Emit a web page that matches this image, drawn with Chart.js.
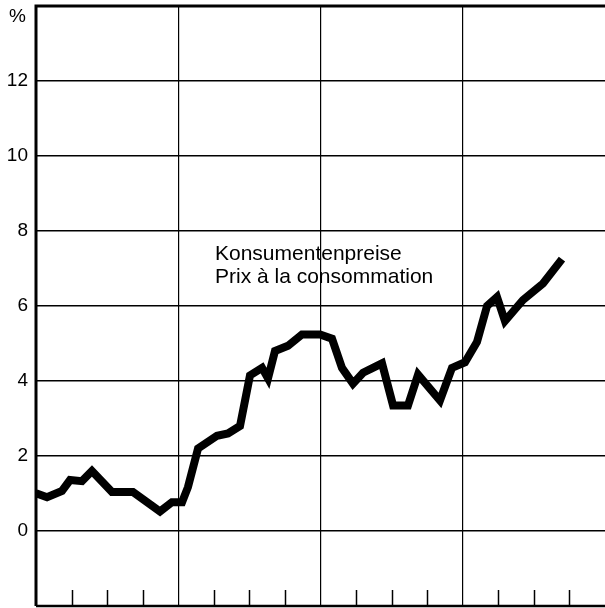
<!DOCTYPE html>
<html>
<head>
<meta charset="utf-8">
<script src="https://cdn.jsdelivr.net/npm/chart.js@4"></script>
<style>
  html, body { margin: 0; padding: 0; background: #fff; }
  #wrap { width: 605px; height: 608px; }
</style>
</head>
<body>
<div id="wrap"><canvas id="cpi"></canvas></div>
<script>
// months since start of the first year shown (4 years on the axis)
const months = [0, 0.93, 2.19, 2.87, 3.88, 4.72, 6.41, 8.18, 10.46, 11.47,
  12.32, 12.82, 13.67, 15.27, 16.2, 17.21, 18.05, 19.07, 19.57, 20.16,
  21.26, 22.44, 23.96, 24.97, 25.81, 26.74, 27.59, 29.19, 30.12, 31.38,
  32.23, 34.08, 35.09, 36.19, 37.2, 38.05, 38.89, 39.56, 41.08, 42.77, 44.37];
const cpi = [1.01, 0.9, 1.07, 1.36, 1.33, 1.6, 1.04, 1.04, 0.52, 0.77,
  0.77, 1.17, 2.2, 2.54, 2.6, 2.8, 4.15, 4.35, 4.07, 4.8,
  4.94, 5.24, 5.24, 5.13, 4.35, 3.93, 4.22, 4.47, 3.35, 3.35,
  4.17, 3.48, 4.35, 4.5, 5.04, 6.0, 6.24, 5.6, 6.16, 6.6, 7.25];
const yTicks = [0, 2, 4, 6, 8, 10, 12];
const quarterTicks = [3, 6, 9, 15, 18, 21, 27, 30, 33, 39, 42, 45];
const labelLines = ['Konsumentenpreise', 'Prix à la consommation'];

const font = 'Liberation Sans, Arial, Helvetica, sans-serif';

const framePlugin = {
  id: 'frame',
  afterDraw(chart) {
    const { ctx, chartArea: a, scales } = chart;
    ctx.save();
    ctx.strokeStyle = '#000';
    // short quarter ticks rising from the bottom edge
    ctx.lineWidth = 1.5;
    quarterTicks.forEach(m => {
      const x = Math.round(scales.x.getPixelForValue(m)) + 0.5;
      ctx.beginPath();
      ctx.moveTo(x, a.bottom);
      ctx.lineTo(x, a.bottom - 16);
      ctx.stroke();
    });
    // frame: thick left and top, bottom edge
    ctx.lineWidth = 3;
    ctx.beginPath();
    ctx.moveTo(a.left, a.bottom);
    ctx.lineTo(a.left, a.top);
    ctx.lineTo(a.right, a.top);
    ctx.stroke();
    ctx.lineWidth = 2.5;
    ctx.beginPath();
    ctx.moveTo(a.left, a.bottom);
    ctx.lineTo(a.right, a.bottom);
    ctx.stroke();
    // unit sign
    ctx.fillStyle = '#000';
    ctx.font = '19px ' + font;
    ctx.textAlign = 'right';
    ctx.textBaseline = 'middle';
    ctx.fillText('%', 26, a.top + 11);
    // series label
    ctx.textAlign = 'left';
    ctx.textBaseline = 'alphabetic';
    ctx.font = '21px ' + font;
    labelLines.forEach((t, i) => ctx.fillText(t, 215, 260 + i * 23));
    ctx.restore();
  }
};

new Chart(document.getElementById('cpi'), {
  type: 'line',
  data: {
    datasets: [{
      data: months.map((m, i) => ({ x: m, y: cpi[i] })),
      borderColor: '#000',
      borderWidth: 8,
      borderJoinStyle: 'miter',
      borderCapStyle: 'butt',
      pointRadius: 0,
      tension: 0,
      fill: false
    }]
  },
  options: {
    responsive: true,
    maintainAspectRatio: false,
    animation: false,
    layout: { padding: { top: 6, right: 0, bottom: 2, left: 0 } },
    plugins: { legend: { display: false }, tooltip: { enabled: false } },
    scales: {
      x: {
        type: 'linear',
        min: 0,
        max: 48,
        ticks: { display: false, stepSize: 12 },
        grid: {
          drawTicks: false,
          color: c => (c.tick.value > 0 && c.tick.value < 48) ? '#000' : 'rgba(0,0,0,0)',
          lineWidth: 1.2
        },
        border: { display: false },
        afterFit: s => { s.height = 0; s.paddingLeft = 0; s.paddingRight = 0; }
      },
      y: {
        min: -2,
        max: 14,
        afterBuildTicks: s => { s.ticks = [-2].concat(yTicks, [14]).map(v => ({ value: v })); },
        ticks: {
          padding: 8,
          color: '#000',
          font: { family: font, size: 19 },
          callback: v => yTicks.includes(v) ? String(v) : ''
        },
        grid: {
          drawTicks: false,
          color: c => (c.tick.value > -2 && c.tick.value < 14) ? '#000' : 'rgba(0,0,0,0)',
          lineWidth: 1.5
        },
        border: { display: false },
        afterFit: s => { s.width = 36; s.paddingTop = 0; s.paddingBottom = 0; }
      }
    }
  },
  plugins: [framePlugin]
});
</script>
</body>
</html>
